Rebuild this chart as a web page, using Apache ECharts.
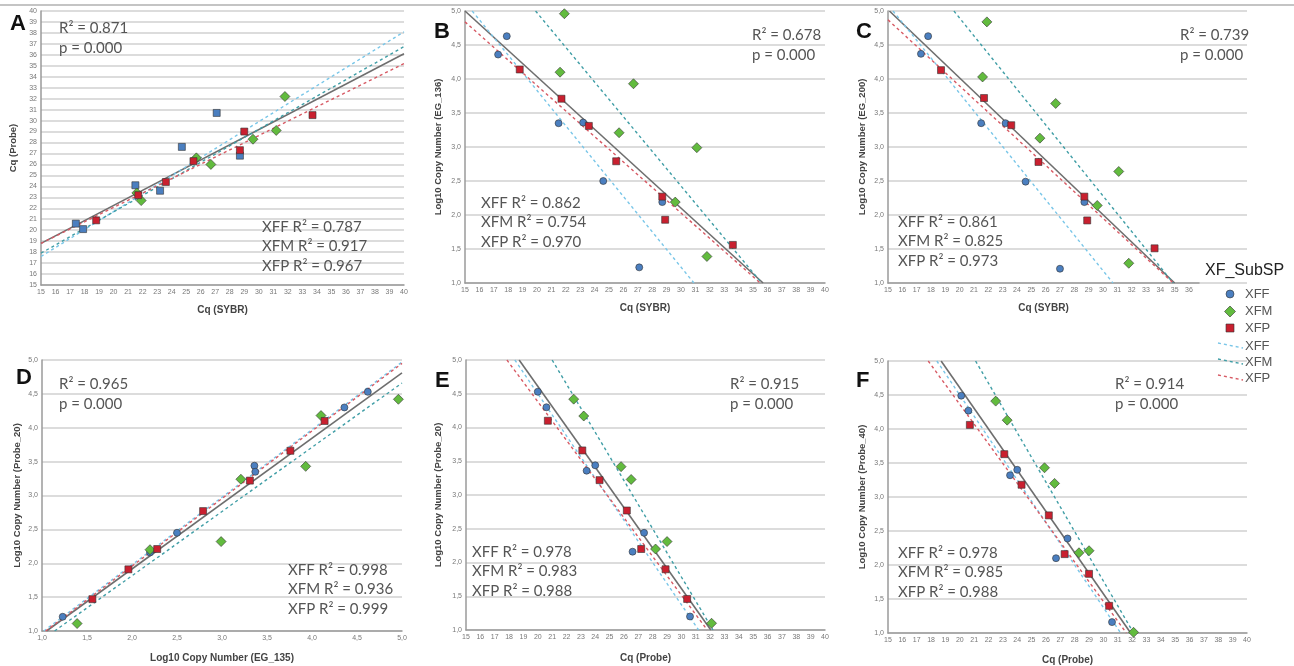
<!DOCTYPE html>
<html lang="en">
<head>
<meta charset="utf-8">
<style type="text/css">
body { margin: 0; background-color: #fff }
#echarts { width: 1294px; height: 666px; }
</style>
</head>
<body>
<div id="echarts"></div>
<script type="text/javascript" src="https://cdn.jsdelivr.net/npm/echarts@6.0.0/dist/echarts.min.js"></script>
<script type="text/javascript">
// points, [x, y]
var aXFF = [[17.4, 20.6], [17.9, 20.1], [21.5, 24.1], [23.2, 23.6], [24.7, 27.6], [27.1, 30.7], [28.7, 26.8]];
var aXFM = [[21.6, 23.4], [21.9, 22.7], [25.7, 26.6], [26.7, 26.0], [29.6, 28.3], [31.2, 29.1], [31.8, 32.2]];
var aXFP = [[18.8, 20.9], [21.7, 23.2], [23.6, 24.4], [25.5, 26.3], [28.7, 27.3], [29.0, 29.0], [33.7, 30.5]];

var bXFF = [[17.9, 4.63], [17.3, 4.36], [21.5, 3.35], [23.2, 3.36], [24.6, 2.5], [28.7, 2.19], [27.1, 1.23]];
var bXFM = [[21.9, 4.96], [21.6, 4.1], [26.7, 3.93], [25.7, 3.21], [31.1, 2.99], [29.6, 2.19], [31.8, 1.39]];
var bXFP = [[18.8, 4.14], [21.7, 3.71], [23.6, 3.31], [25.5, 2.79], [28.7, 2.27], [28.9, 1.93], [33.6, 1.56]];

var cXFF = [[17.8, 4.63], [17.3, 4.37], [21.5, 3.35], [23.2, 3.35], [24.6, 2.49], [28.7, 2.19], [27.0, 1.21]];
var cXFM = [[21.9, 4.84], [21.6, 4.03], [26.7, 3.64], [25.6, 3.13], [31.1, 2.64], [29.6, 2.14], [31.8, 1.29]];
var cXFP = [[18.7, 4.13], [21.7, 3.72], [23.6, 3.32], [25.5, 2.78], [28.7, 2.27], [28.9, 1.92], [33.6, 1.51]];

var dXFF = [[1.23, 1.21], [2.2, 2.16], [2.5, 2.45], [3.36, 3.44], [3.37, 3.35], [4.36, 4.3], [4.62, 4.53]];
var dXFM = [[1.39, 1.11], [2.2, 2.2], [2.99, 2.32], [3.21, 3.24], [3.93, 3.43], [4.1, 4.18], [4.96, 4.42]];
var dXFP = [[1.56, 1.47], [1.96, 1.91], [2.28, 2.21], [2.79, 2.77], [3.31, 3.22], [3.76, 3.66], [4.14, 4.1]];

var eXFF = [[20.0, 4.53], [20.6, 4.3], [23.4, 3.36], [24.0, 3.44], [27.4, 2.44], [26.6, 2.16], [30.6, 1.2]];
var eXFM = [[22.5, 4.42], [23.2, 4.17], [25.8, 3.42], [26.5, 3.23], [29.0, 2.31], [28.2, 2.2], [32.1, 1.1]];
var eXFP = [[20.7, 4.1], [23.1, 3.66], [24.3, 3.22], [26.2, 2.77], [27.2, 2.2], [28.9, 1.9], [30.4, 1.46]];

var fXFF = [[20.1, 4.49], [20.6, 4.27], [23.5, 3.32], [24.0, 3.4], [27.5, 2.39], [26.7, 2.1], [30.6, 1.16]];
var fXFM = [[22.5, 4.41], [23.3, 4.13], [25.9, 3.43], [26.6, 3.2], [29.0, 2.21], [28.3, 2.18], [32.1, 1.01]];
var fXFP = [[20.7, 4.06], [23.1, 3.63], [24.3, 3.18], [26.2, 2.73], [27.3, 2.16], [29.0, 1.87], [30.4, 1.4]];

// fit lines: all, XFF, XFM, XFP (two end points each)
var fitA = [[[15, 18.8], [40, 36.1]], [[15, 17.6], [40, 38.1]], [[15, 17.9], [40, 36.75]], [[15, 18.8], [40, 35.2]]];
var fitB = [[[15, 5.0], [35.7, 1.0]], [[15.5, 5.0], [30.9, 1.0]], [[19.9, 5.0], [35.6, 1.0]], [[15, 4.84], [35.5, 1.0]]];
var fitC = [[[15.1, 5.0], [35.0, 1.0]], [[15.35, 5.0], [30.7, 1.0]], [[19.6, 5.0], [34.9, 1.0]], [[15, 4.87], [34.9, 1.0]]];
var fitD = [[[1.05, 1.0], [5, 4.81]], [[1.02, 1.0], [5, 4.97]], [[1.14, 1.0], [5, 4.66]], [[1.04, 1.0], [5, 4.95]]];
var fitE = [[[18.7, 5], [32.05, 1]], [[18.4, 5], [31.2, 1]], [[21.0, 5], [32.2, 1]], [[17.85, 5], [31.8, 1]]];
var fitF = [[[18.7, 5], [31.9, 1]], [[18.4, 5], [31.2, 1]], [[21.1, 5], [32.1, 1]], [[17.8, 5], [31.6, 1]]];

var letters = ['A', 'B', 'C', 'D', 'E', 'F'];
var r2All = ['0.871', '0.678', '0.739', '0.965', '0.915', '0.914'];
var r2XFF = ['0.787', '0.862', '0.861', '0.998', '0.978', '0.978'];
var r2XFM = ['0.917', '0.754', '0.825', '0.936', '0.983', '0.985'];
var r2XFP = ['0.967', '0.970', '0.973', '0.999', '0.988', '0.988'];
var xNames = ['Cq (SYBR)', 'Cq (SYBR)', 'Cq (SYBR)', 'Log10 Copy Number (EG_135)', 'Cq (Probe)', 'Cq (Probe)'];
var yNames = ['Cq (Probe)', 'Log10 Copy Number (EG_136)', 'Log10 Copy Number (EG_200)',
    'Log10 Copy Number (Probe_20)', 'Log10 Copy Number (Probe_20)', 'Log10 Copy Number (Probe_40)'];

var colXFF = '#4b7fc0', colXFM = '#62bb3e', colXFP = '#c9202f';
var lineXFF = '#79c6e8', lineXFM = '#409ea6', lineXFP = '#d75a64', lineAll = '#6e6e6e';
var txtFont = 'Lato, "Open Sans", sans-serif';
var gridCol = '#d0d0d0';

// layout of the six panels
var panels = [
    { pts: [aXFF, aXFM, aXFP], fit: fitA, grid: { left: 41, top: 11, width: 363, height: 274 }, x: [15, 40, 1], y: [15, 40, 1],
      yGap: 23, xGap: 20, letter: [10, 24], r2: [59, 28], sub: [262, 227], ffSym: 'rect' },
    { pts: [bXFF, bXFM, bXFP], fit: fitB, grid: { left: 465, top: 11, width: 360, height: 272 }, x: [15, 40, 1], y: [1, 5, 0.5],
      yGap: 22, xGap: 20, letter: [434, 32], r2: [752, 35], sub: [481, 203] },
    { pts: [cXFF, cXFM, cXFP], fit: fitC, grid: { left: 888, top: 11, width: 311, height: 272 }, x: [15, 36.7, 1], y: [1, 5, 0.5],
      yGap: 21, xGap: 20, letter: [856, 32], r2: [1180, 35], sub: [898, 222] },
    { pts: [dXFF, dXFM, dXFP], fit: fitD, grid: { left: 42, top: 360, width: 360, height: 271 }, x: [1, 5, 0.5], y: [1, 5, 0.5],
      yGap: 20, xGap: 22, letter: [16, 378], r2: [59, 384], sub: [288, 570] },
    { pts: [eXFF, eXFM, eXFP], fit: fitE, grid: { left: 466, top: 360, width: 359, height: 270 }, x: [15, 40, 1], y: [1, 5, 0.5],
      yGap: 23, xGap: 23, letter: [435, 381], r2: [730, 384], sub: [472, 552] },
    { pts: [fXFF, fXFM, fXFP], fit: fitF, grid: { left: 888, top: 361, width: 359, height: 272 }, x: [15, 40, 1], y: [1, 5, 0.5],
      yGap: 21, xGap: 22, letter: [856, 381], r2: [1115, 384], sub: [898, 553] }
];

function fmt(step) {
    return function (v) {
        if (Math.abs(v / step - Math.round(v / step)) > 1e-6) return '';
        return step < 1 ? v.toFixed(1).replace('.', ',') : String(v);
    };
}

var grids = [], xAxes = [], yAxes = [], series = [], graphics = [];

graphics.push({ type: 'line', shape: { x1: 0, y1: 5, x2: 1294, y2: 5 }, style: { stroke: '#c4c4c4', lineWidth: 2 } });

function text(x, y, str, font, fill, align) {
    graphics.push({ type: 'text', x: x, y: y, style: { text: str, font: font, fill: fill, align: align || 'left', verticalAlign: 'middle' }, z: 20 });
}

panels.forEach(function (p, i) {
    grids.push(p.grid);
    xAxes.push({
        type: 'value', gridIndex: i, min: p.x[0], max: p.x[1], interval: p.x[2],
        name: xNames[i], nameLocation: 'middle', nameGap: p.xGap,
        nameTextStyle: { fontFamily: 'Liberation Sans', fontWeight: 'bold', fontSize: 10, color: '#444' },
        axisLine: { lineStyle: { color: '#9a9a9a', width: 1.5 } }, axisTick: { show: false },
        axisLabel: { fontSize: 7, color: '#777', margin: 4, formatter: fmt(p.x[2]), showMaxLabel: p.x[1] % p.x[2] === 0 },
        splitLine: { show: false }
    });
    yAxes.push({
        type: 'value', gridIndex: i, min: p.y[0], max: p.y[1], interval: p.y[2],
        name: yNames[i], nameLocation: 'middle', nameGap: p.yGap, nameRotate: 90,
        nameTextStyle: { fontFamily: 'Liberation Sans', fontWeight: 'bold', fontSize: 9.5, color: '#444' },
        axisLine: { show: true, lineStyle: { color: '#9a9a9a', width: 1.5 } }, axisTick: { show: false },
        axisLabel: { fontSize: 7, color: '#777', margin: 4, formatter: fmt(p.y[2]) },
        splitLine: { lineStyle: { color: gridCol, width: 1.5 } }
    });

    var lineCols = [lineAll, lineXFF, lineXFM, lineXFP];
    p.fit.forEach(function (seg, k) {
        series.push({
            type: 'line', xAxisIndex: i, yAxisIndex: i, data: seg, symbol: 'none', silent: true, z: 3,
            lineStyle: { color: lineCols[k], width: k === 0 ? 1.6 : 1.4, type: k === 0 ? 'solid' : [3, 3] }
        });
    });

    var syms = [p.ffSym || 'circle', 'diamond', 'rect'];
    var sizes = [7, 10, 7];
    var cols = [colXFF, colXFM, colXFP];
    var names = ['XFF', 'XFM', 'XFP'];
    p.pts.forEach(function (d, k) {
        series.push({
            name: names[k], type: 'scatter', xAxisIndex: i, yAxisIndex: i, data: d, z: 5,
            symbol: syms[k], symbolSize: sizes[k],
            itemStyle: { color: cols[k], borderColor: '#333', borderWidth: 0.6, opacity: 1 }
        });
    });

    text(p.letter[0], p.letter[1], letters[i], 'bold 22px "Liberation Sans", Arial', '#111');
    text(p.r2[0], p.r2[1], 'R\u00b2 = ' + r2All[i], '15px ' + txtFont, '#555');
    text(p.r2[0], p.r2[1] + 20, 'p = 0.000', '15px ' + txtFont, '#555');
    text(p.sub[0], p.sub[1], 'XFF R\u00b2 = ' + r2XFF[i], '15px ' + txtFont, '#555');
    text(p.sub[0], p.sub[1] + 19.5, 'XFM R\u00b2 = ' + r2XFM[i], '15px ' + txtFont, '#555');
    text(p.sub[0], p.sub[1] + 39, 'XFP R\u00b2 = ' + r2XFP[i], '15px ' + txtFont, '#555');
});

// panel C's horizontal gridlines run on past its x axis
grids.push({ left: 1199, top: 11, width: 48, height: 272 });
xAxes.push({
    type: 'value', gridIndex: 6, min: 0, max: 1,
    axisLine: { show: false }, axisTick: { show: false }, axisLabel: { show: false }, splitLine: { show: false }
});
yAxes.push({
    type: 'value', gridIndex: 6, min: 1, max: 5, interval: 0.5,
    axisLine: { show: false }, axisTick: { show: false }, axisLabel: { show: false },
    splitLine: { show: true, lineStyle: { color: gridCol, width: 1.5 } }
});

// legend
var lgFont = '13px "Liberation Sans", Arial';
text(1205, 271, 'XF_SubSP', '16px "Liberation Sans", Arial', '#222');
graphics.push({ type: 'circle', shape: { cx: 1230, cy: 294, r: 4 }, style: { fill: colXFF, stroke: '#333', lineWidth: 0.6 }, z: 20 });
graphics.push({ type: 'polygon', shape: { points: [[1230, 306], [1235.5, 311.5], [1230, 317], [1224.5, 311.5]] }, style: { fill: colXFM, stroke: '#333', lineWidth: 0.6 }, z: 20 });
graphics.push({ type: 'rect', shape: { x: 1226, y: 324, width: 8, height: 8 }, style: { fill: colXFP, stroke: '#333', lineWidth: 0.6 }, z: 20 });
[[lineXFF, 346], [lineXFM, 362], [lineXFP, 378]].forEach(function (l) {
    graphics.push({ type: 'line', shape: { x1: 1218, y1: l[1] - 3, x2: 1243, y2: l[1] + 2 }, style: { stroke: l[0], lineWidth: 1.4, lineDash: [3, 3] }, z: 20 });
});
text(1245, 294, 'XFF', lgFont, '#555');
text(1245, 311, 'XFM', lgFont, '#555');
text(1245, 328, 'XFP', lgFont, '#555');
text(1245, 346, 'XFF', lgFont, '#555');
text(1245, 362, 'XFM', lgFont, '#555');
text(1245, 378, 'XFP', lgFont, '#555');

var myEcharts = echarts.init(document.getElementById('echarts'));
myEcharts.setOption({
    animation: false,
    grid: grids,
    xAxis: xAxes,
    yAxis: yAxes,
    series: series,
    graphic: graphics
});
</script>
</body>
</html>
